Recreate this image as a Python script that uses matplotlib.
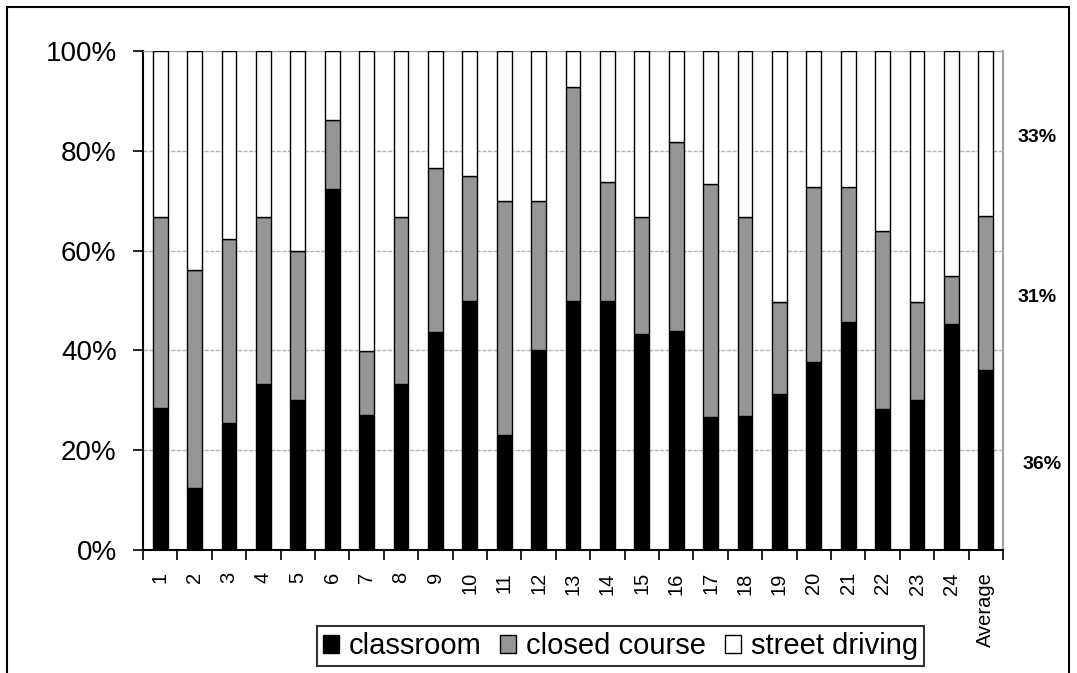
import numpy as np
import matplotlib
matplotlib.use("Agg")
import matplotlib.pyplot as plt
import matplotlib.transforms as mtransforms
from matplotlib.patches import Rectangle

plt.rcParams['font.family'] = ['Liberation Sans', 'DejaVu Sans']

# data (fractions of training time)
categories = [str(i) for i in range(1, 25)] + ["Average"]
classroom = [0.285, 0.124, 0.254, 0.333, 0.301, 0.724, 0.270, 0.333, 0.436,
             0.498, 0.230, 0.400, 0.498, 0.498, 0.432, 0.439, 0.266, 0.269,
             0.313, 0.377, 0.456, 0.282, 0.301, 0.452, 0.360]
closed_course_top = [0.667, 0.561, 0.623, 0.667, 0.600, 0.861, 0.398, 0.667, 0.766,
                     0.750, 0.699, 0.699, 0.928, 0.738, 0.667, 0.817, 0.734, 0.667,
                     0.497, 0.727, 0.727, 0.639, 0.497, 0.549, 0.670]
series_names = ["classroom", "closed course", "street driving"]
avg_labels = ["36%", "31%", "33%"]
y_ticks = [0, 0.2, 0.4, 0.6, 0.8, 1.0]
y_ticklabels = ["0%", "20%", "40%", "60%", "80%", "100%"]

classroom = np.array(classroom)
closed = np.array(closed_course_top) - classroom
street = 1.0 - np.array(closed_course_top)

fig = plt.figure(figsize=(10.77, 6.73), dpi=100)
ax = fig.add_axes([0.1328, 0.1828, 0.7985, 0.7414])

x = np.arange(len(categories))
w = 0.43
colors = ["black", "#969696", "white"]
bottom = np.zeros(len(categories))
for vals, name, c in zip([classroom, closed, street], series_names, colors):
    ax.bar(x, vals, w, bottom=bottom, color=c, edgecolor="black",
           linewidth=1.0, label=name, zorder=3)
    bottom = bottom + vals

ax.set_xlim(-0.5, len(categories) - 0.5)
ax.set_ylim(0, 1)

# grid
for yv in y_ticks[1:]:
    ax.axhline(yv, color="#b4b4b4", linestyle=(0, (3, 1)), linewidth=1.0, zorder=1)

ax.set_yticks(y_ticks)
ax.set_yticklabels(y_ticklabels, fontsize=20)
ax.tick_params(axis="y", direction="out", length=7, width=1.2, pad=12)

# labels at centres, ticks at boundaries
ax.set_xticks(x)
ax.set_xticklabels(categories, rotation=90, fontsize=14.5)
ax.set_xticks(np.arange(len(categories) + 1) - 0.5, minor=True)
ax.tick_params(axis="x", which="major", length=0, pad=16)
ax.tick_params(axis="x", which="minor", direction="out", length=7, width=1.2)

ax.spines["left"].set_linewidth(1.5)
ax.spines["bottom"].set_linewidth(1.5)
ax.spines["top"].set_color("#a0a0a0")
ax.spines["right"].set_color("#a0a0a0")
ax.spines["right"].set_linewidth(1.5)

# share labels beside the average bar
trans = mtransforms.blended_transform_factory(ax.transAxes, ax.transData)
mids = [classroom[-1] / 2,
        classroom[-1] + closed[-1] / 2,
        classroom[-1] + closed[-1] + street[-1] / 2]
xs = [1.045, 1.0395, 1.0395]
for m, lab, xx in zip(mids, avg_labels, xs):
    ax.text(xx, m - 0.008, lab, transform=trans, ha="center", va="center",
            fontsize=14, fontweight="bold")

leg = fig.legend(loc="center", bbox_to_anchor=(0.576, 0.040), ncol=3,
                 fontsize=21, frameon=True, fancybox=False, edgecolor="black",
                 handlelength=0.55, handleheight=0.55, handletextpad=0.34,
                 columnspacing=0.65, borderpad=0.2, borderaxespad=0)
leg.get_frame().set_linewidth(1.5)

# outer chart border
fig.patches.append(Rectangle((7 / 1077, -0.02), 1062 / 1077, 1 - 7 / 673 + 0.02,
                             transform=fig.transFigure, fill=False,
                             edgecolor="black", linewidth=1.5))

fig.savefig("out.png", dpi=100)
